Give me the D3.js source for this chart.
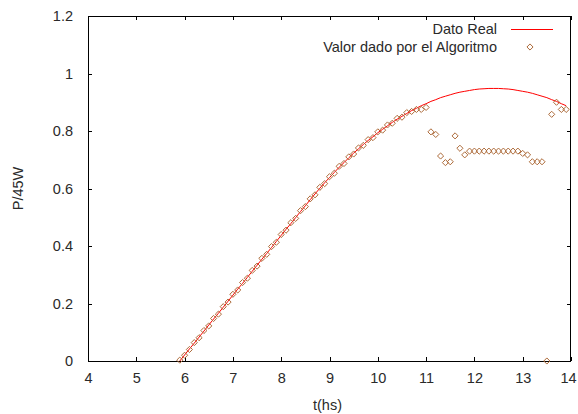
<!DOCTYPE html>
<html>
<head>
<meta charset="utf-8">
<script src="https://cdn.jsdelivr.net/npm/d3@7"></script>
<style>
  html, body { margin: 0; padding: 0; background: #fff; }
  svg { display: block; }
  text { font-family: "Liberation Sans", Arial, sans-serif; }
</style>
</head>
<body>
<svg id="chart" width="578" height="414"></svg>
<script>
// ---- data ----
const timeHours = [
  5.9, 6.0, 6.1, 6.2, 6.3, 6.4, 6.5, 6.6, 6.7, 6.8, 6.9,
  7.0, 7.1, 7.2, 7.3, 7.4, 7.5, 7.6, 7.7, 7.8, 7.9,
  8.0, 8.1, 8.2, 8.3, 8.4, 8.5, 8.6, 8.7, 8.8, 8.9,
  9.0, 9.1, 9.2, 9.3, 9.4, 9.5, 9.6, 9.7, 9.8, 9.9,
  10.0, 10.1, 10.2, 10.3, 10.4, 10.5, 10.6, 10.7, 10.8, 10.9,
  11.0, 11.1, 11.2, 11.3, 11.4, 11.5, 11.6, 11.7, 11.8, 11.9,
  12.0, 12.1, 12.2, 12.3, 12.4, 12.5, 12.6, 12.7, 12.8, 12.9,
  13.0, 13.1, 13.2, 13.3, 13.4, 13.5, 13.6, 13.7, 13.8, 13.9
];
const datoReal = [
  0.000, 0.021, 0.042, 0.062, 0.083, 0.104, 0.125, 0.146, 0.166, 0.187, 0.208,
  0.229, 0.250, 0.270, 0.291, 0.312, 0.333, 0.354, 0.374, 0.395, 0.416,
  0.437, 0.458, 0.478, 0.499, 0.520, 0.540, 0.561, 0.581, 0.601, 0.620,
  0.638, 0.656, 0.674, 0.690, 0.707, 0.723, 0.738, 0.753, 0.767, 0.780,
  0.794, 0.806, 0.818, 0.830, 0.841, 0.851, 0.861, 0.871, 0.879, 0.888,
  0.895, 0.903, 0.909, 0.916, 0.921, 0.926, 0.931, 0.935, 0.938, 0.941,
  0.944, 0.946, 0.947, 0.948, 0.948, 0.948, 0.947, 0.946, 0.944, 0.941,
  0.938, 0.935, 0.931, 0.926, 0.921, 0.916, 0.909, 0.903, 0.895, 0.888
];
const valorAlgoritmo = [
  0.003, 0.020, 0.040, 0.064, 0.081, 0.106, 0.122, 0.148, 0.163, 0.189, 0.205,
  0.232, 0.247, 0.273, 0.288, 0.315, 0.330, 0.357, 0.371, 0.398, 0.413,
  0.440, 0.455, 0.481, 0.496, 0.523, 0.537, 0.564, 0.578, 0.604, 0.617,
  0.641, 0.653, 0.677, 0.687, 0.710, 0.720, 0.741, 0.750, 0.770, 0.777,
  0.797, 0.803, 0.821, 0.827, 0.844, 0.848, 0.864, 0.868, 0.875, 0.875,
  0.882, 0.797, 0.788, 0.713, 0.690, 0.693, 0.783, 0.740, 0.717, 0.730,
  0.730, 0.730, 0.730, 0.730, 0.730, 0.730, 0.730, 0.730, 0.730, 0.730,
  0.722, 0.717, 0.693, 0.693, 0.693, 0.000, 0.858, 0.900, 0.875, 0.875
];
const xTicks = [4, 5, 6, 7, 8, 9, 10, 11, 12, 13, 14];
const yTicks = [0, 0.2, 0.4, 0.6, 0.8, 1.0, 1.2];
const yTickLabels = ["0", "0.2", "0.4", "0.6", "0.8", "1", "1.2"];
const seriesNames = ["Dato Real", "Valor dado por el Algoritmo"];
const xTitle = "t(hs)";
const yTitle = "P/45W";

// ---- layout ----
const L = 88, R = 571, T = 16, B = 361;
const svg = d3.select("#chart");
const x = d3.scaleLinear().domain([4, 14]).range([L, R]);
const y = d3.scaleLinear().domain([0, 1.2]).range([B, T]);

const textColor = "#2a2a2a";
const fontSize = "14.5px";

// axes
const gB = svg.append("g").attr("transform", `translate(0,${B})`)
  .call(d3.axisBottom(x).tickValues(xTicks).tickFormat(d3.format("d"))
    .tickSizeInner(-4).tickSizeOuter(0).tickPadding(12));
const gT = svg.append("g").attr("transform", `translate(0,${T})`)
  .call(d3.axisTop(x).tickValues(xTicks).tickFormat("")
    .tickSizeInner(-4).tickSizeOuter(0));
const gL = svg.append("g").attr("transform", `translate(${L},0)`)
  .call(d3.axisLeft(y).tickValues(yTicks).tickFormat((d, i) => yTickLabels[i])
    .tickSizeInner(-4).tickSizeOuter(0).tickPadding(15));
const gR = svg.append("g").attr("transform", `translate(${R},0)`)
  .call(d3.axisRight(y).tickValues(yTicks).tickFormat("")
    .tickSizeInner(-4).tickSizeOuter(0));

[gB, gT, gL, gR].forEach(g => {
  g.select(".domain").remove();
  g.selectAll(".tick line").attr("stroke", "#000").attr("shape-rendering", "crispEdges");
  g.selectAll(".tick text").attr("fill", textColor)
    .style("font-size", fontSize).style("font-family", '"Liberation Sans", Arial, sans-serif');
});
// keep the last x label inside the window
gB.selectAll(".tick text").filter(d => d === 14).attr("x", -3);

// frame
svg.append("rect")
  .attr("x", L + 0.5).attr("y", T + 0.5)
  .attr("width", R - L - 1).attr("height", B - T)
  .attr("fill", "none").attr("stroke", "#000").attr("stroke-width", 1)
  .attr("shape-rendering", "crispEdges");

// line series
const realData = timeHours.map((t, i) => [t, datoReal[i]]);
const algData = timeHours.map((t, i) => [t, valorAlgoritmo[i]]);

svg.append("path")
  .datum(realData)
  .attr("fill", "none")
  .attr("stroke", "#ff0000")
  .attr("stroke-width", 1)
  .attr("d", d3.line().x(d => x(d[0])).y(d => y(d[1])));

// diamond points
const diamond = d3.symbol().type(d3.symbolDiamond2).size(24);
const ptColor = "#ad6b3a";
svg.append("g").selectAll("path")
  .data(algData)
  .join("path")
  .attr("transform", d => `translate(${x(d[0])},${y(d[1])})`)
  .attr("d", diamond)
  .attr("fill", "none")
  .attr("stroke", ptColor)
  .attr("stroke-width", 1);

// axis titles
svg.append("text")
  .attr("x", (L + R) / 2 - 2).attr("y", 410)
  .attr("text-anchor", "middle")
  .attr("fill", textColor).style("font-size", fontSize)
  .text(xTitle);
svg.append("text")
  .attr("transform", `translate(23,${(T + B) / 2}) rotate(-90)`)
  .attr("text-anchor", "middle")
  .attr("fill", textColor).style("font-size", fontSize)
  .text(yTitle);

// legend
const lg = svg.append("g");
lg.append("text").attr("x", 497).attr("y", 33.5)
  .attr("text-anchor", "end").attr("fill", textColor).style("font-size", fontSize)
  .text(seriesNames[0]);
lg.append("line").attr("x1", 511).attr("x2", 553).attr("y1", 29.5).attr("y2", 29.5)
  .attr("stroke", "#ff0000").attr("stroke-width", 1);
lg.append("text").attr("x", 497).attr("y", 51.5)
  .attr("text-anchor", "end").attr("fill", textColor).style("font-size", fontSize)
  .text(seriesNames[1]);
lg.append("path").attr("transform", "translate(530,47)").attr("d", diamond)
  .attr("fill", "none").attr("stroke", ptColor).attr("stroke-width", 1);
</script>
</body>
</html>
